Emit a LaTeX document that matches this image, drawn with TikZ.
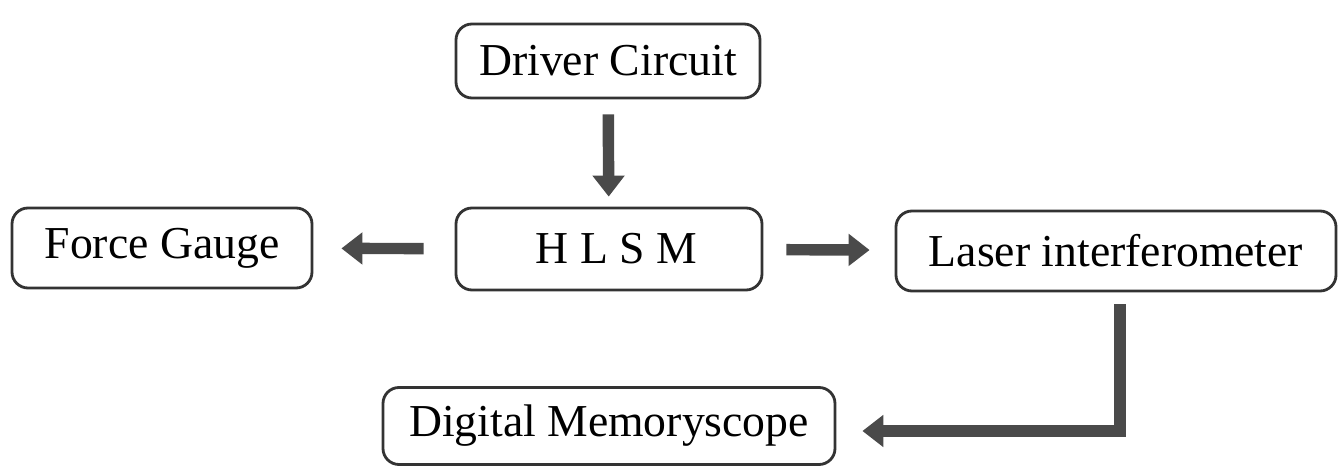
\documentclass[tikz,border=0pt]{standalone}
\usepackage{fontspec}
\setmainfont{Liberation Serif}
\usetikzlibrary{arrows.meta}
\definecolor{boxline}{HTML}{333333}
\definecolor{arrowgray}{HTML}{4A4A4A}
\begin{document}
\begin{tikzpicture}[
    block/.style={draw=boxline,line width=1.6pt,rounded corners=0.32cm,
        inner sep=0pt,font=\fontsize{26}{31}\selectfont},
    flow/.style={draw=arrowgray,line width=6.5pt,
        -{Triangle[length=0.42cm,width=0.62cm]}}]
    \useasboundingbox (0,0) rectangle (26.78,9.38);
    % blocks
    \node[block,minimum width=6.08cm,minimum height=1.48cm] (driver) at (12.16,8.16) {Driver Circuit};
    \node[block,minimum width=6.0cm,minimum height=1.6cm] (gauge) at (3.24,4.42) {Force Gauge};
    \node[block,minimum width=6.12cm,minimum height=1.64cm] (hlsm) at (12.18,4.40) {\hspace{0.3cm}H L S M};
    \node[block,minimum width=8.8cm,minimum height=1.6cm] (laser) at (22.32,4.36) {Laser interferometer};
    \node[block,minimum width=9.04cm,minimum height=1.54cm] (scope) at (12.18,0.86) {Digital Memoryscope};
    % connectors
    \draw[flow,shorten <=0.3cm,shorten >=0.2cm] (driver) -- (hlsm);
    \draw[flow,shorten <=0.62cm,shorten >=0.56cm] (hlsm) -- (gauge);
    \draw[flow,shorten <=0.46cm,shorten >=0.5cm] (hlsm) -- (laser);
    \draw[flow,shorten <=0.24cm,shorten >=0.52cm] ([xshift=0.08cm]laser.south) |- ([yshift=-0.1cm]scope.east);
\end{tikzpicture}
\end{document}
